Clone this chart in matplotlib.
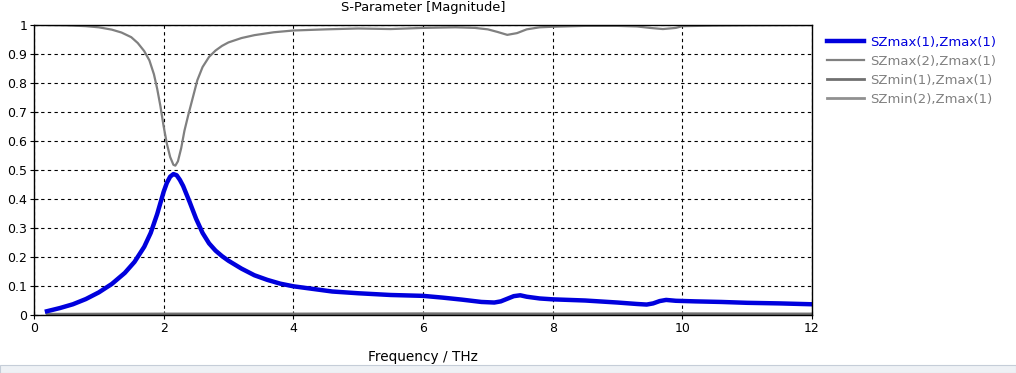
import matplotlib.pyplot as plt
from matplotlib.patches import Rectangle

# S-parameter magnitudes
freq_blue = [0.2, 0.4, 0.6, 0.8, 1.0, 1.2, 1.4, 1.55, 1.7, 1.8, 1.9, 2.0, 2.05, 2.1,
             2.15, 2.2, 2.25, 2.3, 2.4, 2.5, 2.6, 2.7, 2.8, 2.9, 3.0, 3.2, 3.4, 3.6,
             3.8, 4.0, 4.3, 4.6, 5.0, 5.5, 6.0, 6.3, 6.6, 6.9, 7.1, 7.2, 7.3, 7.4, 7.5,
             7.6, 7.8, 8.0, 8.5, 9.0, 9.3, 9.45, 9.55, 9.65, 9.75, 9.9, 10.2, 10.6,
             11.0, 11.5, 12.0]
s_zmax1 = [0.013, 0.024, 0.037, 0.055, 0.078, 0.107, 0.145, 0.183, 0.235, 0.283,
           0.348, 0.425, 0.456, 0.477, 0.486, 0.482, 0.466, 0.445, 0.39, 0.332, 0.283,
           0.247, 0.222, 0.203, 0.187, 0.16, 0.137, 0.121, 0.108, 0.099, 0.09, 0.081,
           0.075, 0.069, 0.066, 0.06, 0.053, 0.045, 0.043, 0.047, 0.056, 0.065, 0.068,
           0.063, 0.057, 0.054, 0.05, 0.043, 0.038, 0.036, 0.04, 0.048, 0.052, 0.049,
           0.047, 0.045, 0.042, 0.04, 0.037]

freq_gray = [0.2, 0.5, 0.8, 1.0, 1.2, 1.35, 1.5, 1.6, 1.7, 1.78, 1.85, 1.9, 1.95, 2.0,
             2.05, 2.1, 2.15, 2.18, 2.22, 2.27, 2.32, 2.38, 2.45, 2.52, 2.6, 2.7, 2.8,
             2.9, 3.0, 3.2, 3.4, 3.7, 4.0, 4.5, 5.0, 5.5, 6.0, 6.5, 6.8, 7.0, 7.15, 7.3,
             7.45, 7.6, 7.8, 8.0, 8.5, 9.0, 9.3, 9.5, 9.7, 9.9, 10.0, 10.5, 11.0, 12.0]
s_zmax2 = [1.0, 0.999, 0.996, 0.992, 0.984, 0.974, 0.958, 0.938, 0.91, 0.878, 0.83,
           0.78, 0.72, 0.65, 0.59, 0.545, 0.518, 0.515, 0.53, 0.575, 0.635, 0.69, 0.75,
           0.81, 0.855, 0.89, 0.912, 0.928, 0.94, 0.955, 0.965, 0.975, 0.981, 0.985,
           0.988, 0.986, 0.99, 0.992, 0.99, 0.985, 0.976, 0.966, 0.972, 0.985, 0.992,
           0.994, 0.997, 0.997, 0.995, 0.99, 0.986, 0.99, 0.996, 0.998, 0.999, 1.0]

freq_low = [0.2, 2.0, 4.0, 6.0, 8.0, 10.0, 12.0]
s_zmin1 = [0.004, 0.004, 0.004, 0.004, 0.004, 0.004, 0.004]
s_zmin2 = [0.003, 0.004, 0.004, 0.005, 0.004, 0.005, 0.004]

labels = ["SZmax(1),Zmax(1)", "SZmax(2),Zmax(1)", "SZmin(1),Zmax(1)", "SZmin(2),Zmax(1)"]
blue = "#0000dd"
gray = "#808080"

fig = plt.figure(figsize=(10.16, 3.73), dpi=100)
ax = fig.add_axes([34 / 1016, 1 - 315 / 373, 778 / 1016, 290 / 373])

ax.plot(freq_low, s_zmin2, color="#909090", lw=2, label=labels[3])
ax.plot(freq_low, s_zmin1, color="#707070", lw=2, label=labels[2])
ax.plot(freq_gray, s_zmax2, color=gray, lw=1.6, label=labels[1])
ax.plot(freq_blue, s_zmax1, color=blue, lw=3.2, label=labels[0],
        solid_joinstyle="round")

ax.set_xlim(0, 12)
ax.set_ylim(0, 1)
ax.set_xticks(range(0, 13, 2))
ax.set_yticks([i / 10 for i in range(11)])
ax.set_yticklabels(["0"] + [f"{i / 10:g}" for i in range(1, 10)] + ["1"])
ax.grid(True, color="black", linestyle=(0, (3, 3)), linewidth=0.8)
ax.tick_params(direction="inout", length=6, width=0.8, labelsize=9, pad=2)
for s in ax.spines.values():
    s.set_linewidth(1)

# title sits right against the top edge of the screenshot
fig.text(423 / 1016, 1 - 8 / 373, "S-Parameter [Magnitude]", fontsize=9.4,
         ha="center", va="center")
ax.set_xlabel("Frequency / THz", fontsize=9.8, labelpad=11)

handles, labs = ax.get_legend_handles_labels()
order = [3, 2, 1, 0]
leg = ax.legend([handles[i] for i in order], [labs[i] for i in order],
                loc="upper left", bbox_to_anchor=(1.012, 0.98), frameon=False,
                fontsize=9.5, handlelength=2.8, handletextpad=0.5, labelspacing=0.45,
                borderaxespad=0)
for txt, c in zip(leg.get_texts(), [blue, gray, gray, gray]):
    txt.set_color(c)

# window chrome strip at the bottom of the screenshot
fig.patches.append(Rectangle((0, 0), 1, 8 / 373, transform=fig.transFigure,
                             facecolor="#eef1f5", edgecolor="#c5cdd8", lw=0.8))

fig.savefig("out.png", dpi=100)
